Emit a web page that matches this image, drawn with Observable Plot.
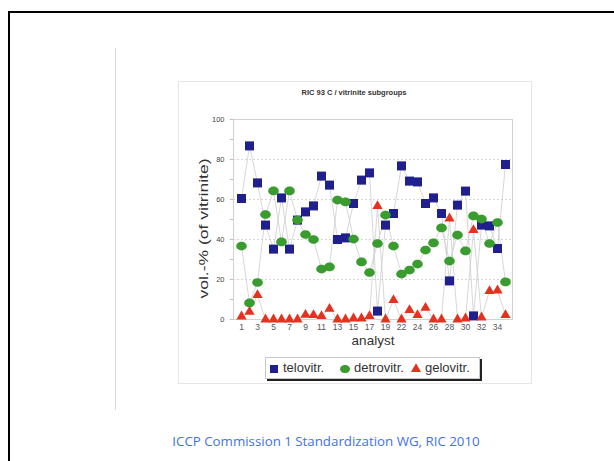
<!DOCTYPE html>
<html>
<head>
<meta charset="utf-8">
<script src="https://cdn.jsdelivr.net/npm/d3@7"></script>
<script src="https://cdn.jsdelivr.net/npm/@observablehq/plot@0.6"></script>
<style>
  html, body { margin: 0; padding: 0; background: #fff; }
  #page { position: relative; width: 614px; height: 461px; overflow: hidden; background: #fff; font-family: "Liberation Sans", Arial, sans-serif; }
  .abs { position: absolute; }
  #frameTop { left: 8px; top: 11px; width: 606px; height: 2px; background: #000; }
  #frameLeft { left: 8px; top: 11px; width: 2px; height: 450px; background: #000; }
  #vline { left: 115px; top: 48px; width: 1px; height: 362px; background: #dcdcdc; }
  #chartBox { left: 178px; top: 81px; width: 352px; height: 301px; border: 1px solid #e6e6e6; }
  #plot { left: 178px; top: 81px; }
  #legend { left: 265px; top: 357px; width: 213px; height: 20px; border: 1px solid #c8c8c8; box-shadow: 2px 2px 0 #222; background: #fff; font-size: 13px; color: #333; }
  #legend span { position: absolute; top: 2px; line-height: 16px; }
  #legend svg { position: absolute; top: 5px; }
  #caption { left: 0; width: 652px; top: 432px; text-align: center; font-family: "Open Sans", "Noto Sans", sans-serif; font-size: 13.3px; color: #3f72e8; white-space: nowrap; }
</style>
</head>
<body>
<div id="page">
  <div id="frameTop" class="abs"></div>
  <div id="frameLeft" class="abs"></div>
  <div id="vline" class="abs"></div>
  <div id="chartBox" class="abs"></div>
  <div id="plot" class="abs"></div>
  <div id="legend" class="abs"></div>
  <div id="caption" class="abs">ICCP Commission 1 Standardization WG, RIC 2010</div>
</div>
<script>
// ---- data ----
const analysts = [1,2,3,4,5,6,7,8,9,10,11,12,13,14,15,16,17,18,19,20,22,23,24,25,26,27,28,29,30,31,32,33,34,35];
const xTickLabels = [1,3,5,7,9,11,13,15,17,19,22,24,26,28,30,32,34];
const telovitr = [60.5,86.8,68.3,47.2,35.2,60.8,35.2,49.7,53.8,56.8,71.7,67.2,40,40.8,58,69.7,73.3,4.2,47.2,53,76.8,69.2,68.8,58,60.8,53,19.3,57.2,64.2,1.8,47.2,46.8,35.5,77.5];
const detrovitr = [36.7,8.3,18.5,52.5,64.3,38.8,64.3,49.7,42.5,40,25.2,26.3,59.7,58.8,40.2,28.8,23.5,38,52.2,36.7,22.7,24.7,27.7,34.7,38.3,45.8,29.2,42.2,34.3,51.8,50.2,38,48.5,18.8];
const gelovitr = [1.5,3.8,12.2,0,0,0,0,0,2.3,2.2,1.7,5.3,0,0,0.5,0.5,1.7,56.7,0,9.7,0,4.7,2.2,5.8,0,0,50.5,0,0.5,44.7,1,14.2,14.5,2.2];
const yTicks = [0,10,20,30,40,50,60,70,80,90,100];
const gridValues = [20,40,60,80];
const seriesNames = ["telovitr.","detrovitr.","gelovitr."];
const title = "RIC 93 C / vitrinite subgroups";
const xLabel = "analyst";
const yLabel = "vol.-% (of vitrinite)";

const colors = { tel: "#1f1f8e", det: "#3a9b2e", gel: "#e4321f" };

const toRows = vals => vals.map((v, i) => ({ analyst: String(analysts[i]), v }));
const telRows = toRows(telovitr), detRows = toRows(detrovitr), gelRows = toRows(gelovitr);

// ellipse symbol (wider than tall) for detrovitr.
const ellipse = {
  draw(ctx, size) {
    const r = Math.sqrt(size / Math.PI);
    const rx = r, ry = r * 0.82, k = 0.5523;
    ctx.moveTo(rx, 0);
    ctx.bezierCurveTo(rx, k * ry, k * rx, ry, 0, ry);
    ctx.bezierCurveTo(-k * rx, ry, -rx, k * ry, -rx, 0);
    ctx.bezierCurveTo(-rx, -k * ry, -k * rx, -ry, 0, -ry);
    ctx.bezierCurveTo(k * rx, -ry, rx, -k * ry, rx, 0);
    ctx.closePath();
  }
};

const lineStyle = { x: "analyst", y: "v", stroke: "#cdcdcd", strokeWidth: 0.8 };

const chart = Plot.plot({
  width: 354,
  height: 303,
  marginLeft: 55,
  marginRight: 20,
  marginTop: 38,
  marginBottom: 65,
  style: { fontFamily: "'Liberation Sans', Arial, sans-serif", color: "#444", background: "transparent", overflow: "visible" },
  x: { type: "point", domain: analysts.map(String), range: [59, 330], padding: 0 },
  y: { domain: [0, 100] },
  marks: [
    Plot.ruleY(gridValues, { stroke: "#c4c4c4", strokeWidth: 0.7, strokeDasharray: "2,2" }),
    Plot.frame({ stroke: "#d2d2d2" }),
    Plot.axisY({ ticks: yTicks, tickFormat: d => d % 20 === 0 ? String(d) : "", tickSize: 3, tickPadding: 6, fontSize: 7.5, stroke: "#bdbdbd", fill: "#444", label: null }),
    Plot.axisX({ ticks: xTickLabels.map(String), tickSize: 0, tickPadding: 4, fontSize: 8.5, fill: "#555", label: null }),
    Plot.line(telRows, lineStyle),
    Plot.line(detRows, lineStyle),
    Plot.line(gelRows, lineStyle),
    Plot.dot(telRows, { x: "analyst", y: "v", symbol: "square", r: 5.1, fill: colors.tel }),
    Plot.dot(detRows, { x: "analyst", y: "v", symbol: ellipse, r: 5.3, fill: colors.det }),
    Plot.dot(gelRows, { x: "analyst", y: "v", symbol: "triangle", r: 3.8, fill: colors.gel }),
    Plot.text([title], { frameAnchor: "top", dy: -27, dx: -19, lineAnchor: "middle", fontWeight: "bold", fontSize: 7.5, fill: "#333" }),
    Plot.text([xLabel], { frameAnchor: "bottom", dy: 21, lineAnchor: "middle", fontSize: 13.5, fill: "#333" }),
    Plot.text([yLabel], { frameAnchor: "left", dx: -30, dy: 9, rotate: -90, lineAnchor: "middle", textAnchor: "middle", fontSize: 13, fill: "#333" })
  ]
});
document.getElementById("plot").appendChild(chart);

// stretch the rotated y label to the reference's length
d3.select(chart).selectAll("text").filter(function () { return this.textContent === yLabel; })
  .attr("textLength", 140).attr("lengthAdjust", "spacingAndGlyphs");

// legend
const legend = d3.select("#legend");
const items = [
  { name: seriesNames[0], sym: d3.symbolSquare, size: 64, color: colors.tel, sx: 2, tx: 17 },
  { name: seriesNames[1], sym: ellipse, size: Math.PI * 25, color: colors.det, sx: 73, tx: 88 },
  { name: seriesNames[2], sym: d3.symbolTriangle, size: 44, color: colors.gel, sx: 144, tx: 159 }
];
items.forEach(it => {
  const s = legend.append("svg").attr("width", 12).attr("height", 12).style("left", it.sx + "px");
  s.append("path").attr("transform", "translate(6,6)").attr("d", d3.symbol(it.sym, it.size)()).attr("fill", it.color);
  legend.append("span").style("left", it.tx + "px").text(it.name);
});
</script>
</body>
</html>
